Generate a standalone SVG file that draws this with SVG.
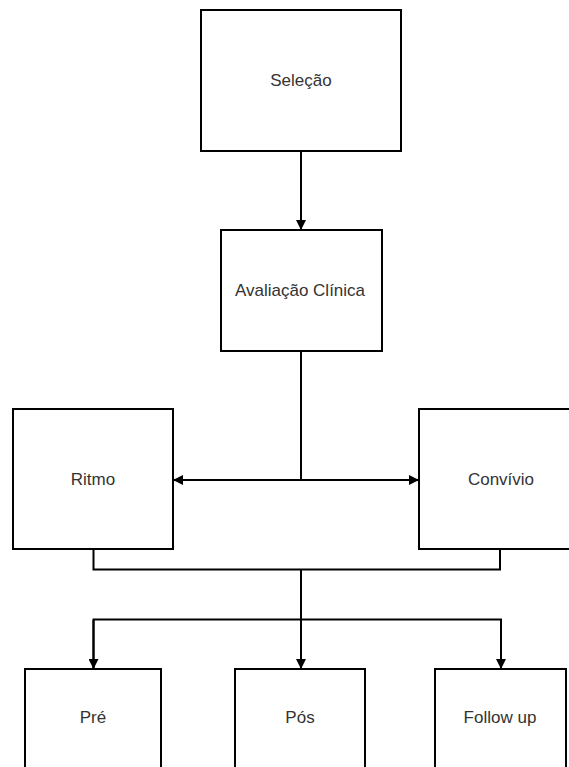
<svg xmlns="http://www.w3.org/2000/svg" width="569" height="767" viewBox="0 0 569 767">
<style>
.box{fill:#fff;stroke:#000;stroke-width:2}
.lbl{font-family:"Liberation Sans",Arial,sans-serif;font-size:17px;fill:#333;text-anchor:middle;dominant-baseline:central}
.ln{fill:none;stroke:#000;stroke-width:2}
</style>
<defs>
<marker id="ah" markerWidth="10" markerHeight="10" refX="9" refY="5" orient="auto" markerUnits="userSpaceOnUse">
<path d="M0,0 L10,5 L0,10 Z" fill="#000"/>
</marker>
</defs>
<rect width="569" height="767" fill="#fff"/>
<g id="connectors">
<path class="ln" d="M301,151 V229" marker-end="url(#ah)"/>
<path class="ln" d="M301,351 V480"/>
<path class="ln" d="M301,480 H174" marker-end="url(#ah)"/>
<path class="ln" d="M301,480 H418" marker-end="url(#ah)"/>
<path class="ln" d="M93.5,549 V569.5 H500 V549"/>
<path class="ln" d="M301,569.5 V668" marker-end="url(#ah)"/>
<path class="ln" d="M93.5,668 V619.5 H501 V668" marker-end="url(#ah)"/>
<path class="ln" d="M93.5,620 V668" marker-end="url(#ah)"/>
</g>
<g id="selecao"><rect class="box" x="201" y="10" width="200" height="141"/><text class="lbl" x="301" y="80">Seleção</text></g>
<g id="avaliacao"><rect class="box" x="221" y="230" width="161" height="121"/><text class="lbl" x="300" y="290">Avaliação Clínica</text></g>
<g id="ritmo"><rect class="box" x="13" y="409" width="160" height="140"/><text class="lbl" x="93" y="479">Ritmo</text></g>
<g id="convivio"><rect class="box" x="419" y="409" width="160" height="140"/><text class="lbl" x="501" y="479">Convívio</text></g>
<g id="pre"><rect class="box" x="25" y="669" width="136" height="120"/><text class="lbl" x="93" y="717">Pré</text></g>
<g id="pos"><rect class="box" x="235" y="669" width="130" height="120"/><text class="lbl" x="300" y="717">Pós</text></g>
<g id="followup"><rect class="box" x="435" y="669" width="131" height="120"/><text class="lbl" x="500" y="717">Follow up</text></g>
</svg>
